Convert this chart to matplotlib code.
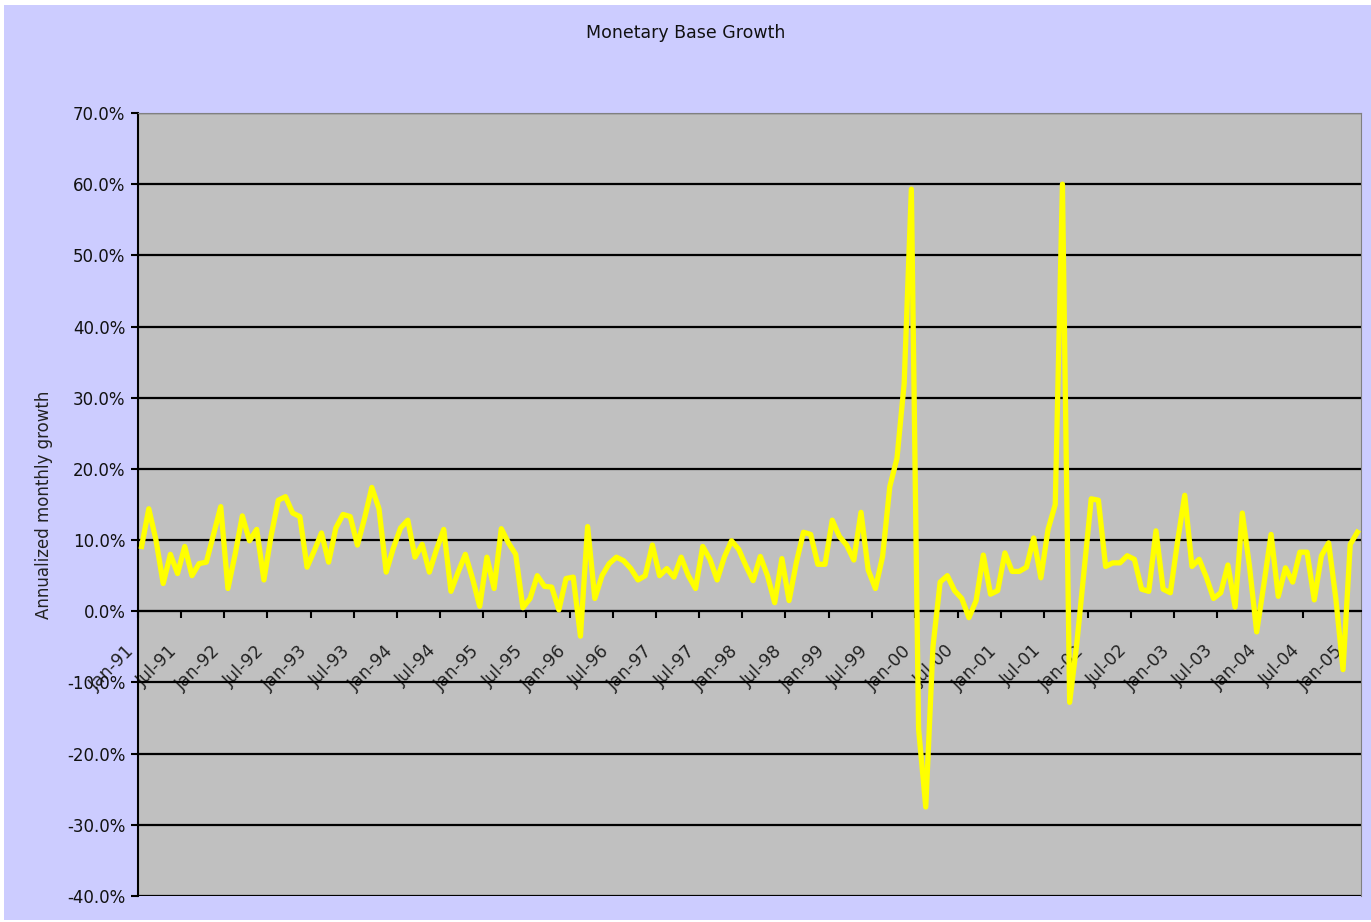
import matplotlib.pyplot as plt
from matplotlib.patches import Rectangle

plt.rcParams['font.family'] = ['DejaVu Sans']

# annualized monthly growth of the monetary base, Jan-91 .. Feb-05 (%)
growth = [
    9.1, 14.4, 10.0, 3.9, 8.0, 5.3, 9.1, 5.0, 6.7, 6.9, 10.8, 14.7,
    3.2, 8.0, 13.4, 9.9, 11.5, 4.4, 10.6, 15.6, 16.1, 13.8, 13.3, 6.2,
    8.5, 11.0, 6.9, 11.7, 13.6, 13.3, 9.3, 13.1, 17.4, 14.4, 5.5, 8.9,
    11.7, 12.8, 7.6, 9.4, 5.5, 8.7, 11.5, 2.8, 5.5, 8.0, 4.6, 0.7,
    7.6, 3.2, 11.6, 9.6, 8.0, 0.5, 1.8, 5.0, 3.5, 3.4, 0.2, 4.6,
    4.8, -3.5, 11.9, 1.8, 5.0, 6.7, 7.6, 7.1, 6.0, 4.4, 5.0, 9.3,
    5.0, 6.0, 4.8, 7.6, 5.0, 3.2, 9.1, 7.3, 4.4, 7.6, 9.9, 8.7,
    6.4, 4.3, 7.7, 5.0, 1.2, 7.4, 1.5, 6.8, 11.1, 10.8, 6.6, 6.6,
    12.8, 10.5, 9.3, 7.2, 13.9, 5.8, 3.2, 7.7, 17.5, 21.5, 32.0, 59.3,
    -16.5, -27.5, -5.0, 4.1, 5.0, 2.9, 1.8, -0.9, 1.5, 7.9, 2.4, 2.9,
    8.2, 5.6, 5.6, 6.2, 10.3, 4.7, 11.5, 15.0, 60.0, -12.8, -4.5, 5.6,
    15.8, 15.6, 6.3, 6.8, 6.8, 7.8, 7.3, 3.1, 2.8, 11.3, 3.1, 2.6,
    9.8, 16.3, 6.3, 7.3, 4.8, 1.8, 2.6, 6.5, 0.6, 13.8, 6.3, -2.9,
    3.8, 10.8, 2.1, 6.1, 4.1, 8.3, 8.3, 1.6, 7.8, 9.6, 1.8, -8.2,
    9.4, 11.1,
]

tick_labels = [
    'Jan-91', 'Jul-91', 'Jan-92', 'Jul-92', 'Jan-93', 'Jul-93', 'Jan-94', 'Jul-94',
    'Jan-95', 'Jul-95', 'Jan-96', 'Jul-96', 'Jan-97', 'Jul-97', 'Jan-98', 'Jul-98',
    'Jan-99', 'Jul-99', 'Jan-00', 'Jul-00', 'Jan-01', 'Jul-01', 'Jan-02', 'Jul-02',
    'Jan-03', 'Jul-03', 'Jan-04', 'Jul-04', 'Jan-05',
]
y_ticks = [-40, -30, -20, -10, 0, 10, 20, 30, 40, 50, 60, 70]

fig = plt.figure(figsize=(13.71, 9.22), dpi=100, facecolor='white')
fig.patches.append(Rectangle((4 / 1371, 2 / 922), 1, 1 - 7 / 922,
                             transform=fig.transFigure, facecolor='#CCCCFF',
                             edgecolor='none', zorder=-10))

ax = fig.add_axes([138 / 1371, 1 - 896 / 922, (1361 - 138) / 1371, (896 - 113) / 922])
ax.set_facecolor('#C0C0C0')

x = list(range(len(growth)))
ax.plot(x, growth, color='#FFFF00', linewidth=3.8, solid_joinstyle='round', zorder=3)

ax.set_xlim(-0.5, len(growth) - 0.5)
ax.set_ylim(-40, 70)

# category axis crosses at 0%
ax.spines['bottom'].set_position(('data', 0))
ax.spines['bottom'].set_color('black')
ax.spines['bottom'].set_linewidth(1.5)
ax.spines['left'].set_color('black')
ax.spines['left'].set_linewidth(1.5)
ax.spines['top'].set_color('#808080')
ax.spines['right'].set_color('#808080')

ax.set_xticks([6 * k - 0.5 for k in range(len(tick_labels))])
ax.set_xticklabels(tick_labels, rotation=45, ha='right', fontsize=12.5, color='#222222')
ax.tick_params(axis='x', direction='out', length=5, width=1.5, pad=17)

ax.set_yticks(y_ticks)
ax.set_yticklabels([f'{v:.1f}%' for v in y_ticks], fontsize=12, color='#111111')
ax.tick_params(axis='y', direction='out', length=5, width=1.5, pad=4)

ax.yaxis.grid(True, color='black', linewidth=1.6, zorder=1)
ax.set_axisbelow(True)

ax.set_ylabel('Annualized monthly growth', fontsize=12, color='#222222', labelpad=10)
fig.text(0.5, 1 - 33 / 922, 'Monetary Base Growth', ha='center', va='center',
         fontsize=12.5, color='#111111')

fig.savefig('out.png', dpi=100, facecolor=fig.get_facecolor())
